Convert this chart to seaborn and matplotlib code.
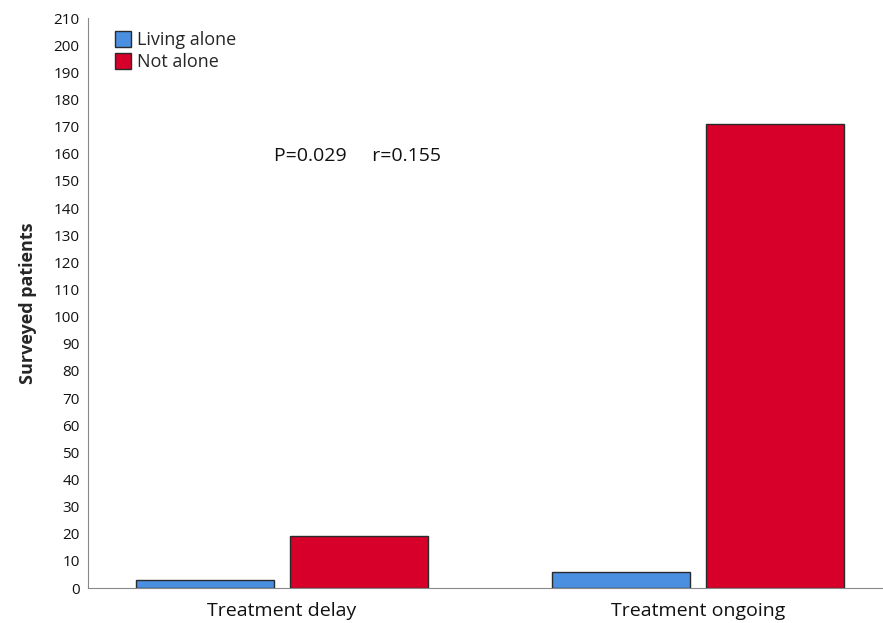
import matplotlib
matplotlib.use("Agg")
import matplotlib.pyplot as plt
import seaborn as sns
import pandas as pd

sns.set_style("white")
plt.rcParams['font.family'] = ['Open Sans', 'DejaVu Sans']

status = ['Treatment delay', 'Treatment ongoing']
groups = ['Living alone', 'Not alone']
living_alone = [3, 6]
not_alone = [19, 171]

df = pd.DataFrame({
    'Status': status * 2,
    'Group': [groups[0]] * 2 + [groups[1]] * 2,
    'Count': living_alone + not_alone,
})

fig = plt.figure(figsize=(8.83, 6.23), dpi=100)
ax = fig.add_axes([88 / 883, 1 - 588 / 623, 1 - 88 / 883, 570 / 623])
sns.barplot(data=df, x='Status', y='Count', hue='Group',
            palette=['#4a8fe0', '#d6002a'], saturation=1, width=0.74, gap=0.1,
            edgecolor='#2a2a2a', linewidth=1, ax=ax)

ax.set_ylim(0, 210)
ax.set_yticks(range(0, 211, 10))
ax.set_xlim(-0.466, 1.445)
ax.set_xlabel('')
ax.set_ylabel('Surveyed patients', fontsize=13, fontweight='bold', labelpad=12)
ax.tick_params(axis='y', labelsize=11, length=0, pad=6, labelcolor='#111111')
ax.tick_params(axis='x', labelsize=14, length=0, pad=10, labelcolor='#111111')
sns.despine(ax=ax, top=True, right=True)
ax.spines['left'].set_color('#888888')
ax.spines['bottom'].set_color('#888888')

ax.text(-0.02, 159, 'P=0.029     r=0.155', fontsize=14, va='center', color='#111111')

leg = ax.legend(loc='upper left', bbox_to_anchor=(0.018, 1.0), frameon=False,
                fontsize=13, handlelength=0.9, handleheight=1.0,
                handletextpad=0.3, labelspacing=0.2, borderpad=0.2)

fig.savefig('out.png', dpi=100)
